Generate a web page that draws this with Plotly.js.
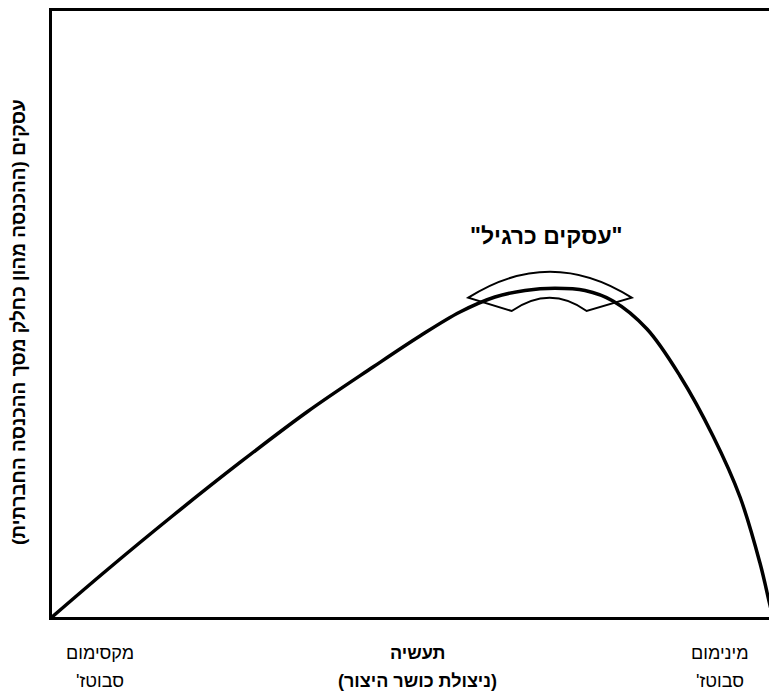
<!DOCTYPE html>
<html>
<head>
<meta charset="utf-8">
<script src="https://cdn.plot.ly/plotly-3.0.1.min.js"></script>
<style>html,body{margin:0;padding:0;background:#fff;}</style>
</head>
<body>
<div id="chart" style="width:769px;height:691px;"></div>
<script>
// Curve: economic activity vs. sabotage level (conceptual values, 0-100 scale)
var curveX = [0, 7.67, 16.88, 26.22, 35.56, 44.77, 51.32, 56.90, 61.78, 65.97, 70.15, 74.34, 78.24, 82.98, 87.59, 92.19, 95.96, 98.74, 100.0, 100.56];
var curveY = [0, 7.76, 16.75, 25.50, 33.83, 41.25, 46.37, 50.33, 52.81, 53.88, 54.24, 53.88, 52.15, 47.52, 39.77, 29.87, 19.80, 8.91, 2.64, -0.17];

// "Business as usual" banner (arc band around the peak)
var bannerOuterX = [58.06, 69.46, 80.85];
var bannerOuterY = [52.69, 61.27, 52.69];
var bannerInnerX = [74.57, 69.46, 64.11];
var bannerInnerY = [50.50, 54.88, 50.50];

// Texts (RLM keeps trailing punctuation in right-to-left order)
var RLM = '\u200F';
var bannerLabel = '"עסקים כרגיל"';
var yTitle = 'עסקים (ההכנסה מהון כחלק מסך ההכנסה החברתית)' + RLM;
var xTitleLines = ['תעשיה', '(ניצולת כושר היצור)'];
var leftLabelLines = ['מקסימום', "סבוטז'" + RLM];
var rightLabelLines = ['מינימום', "סבוטז'" + RLM];

var FONT = 'Liberation Sans, Arial, DejaVu Sans, sans-serif';

var bannerPath = 'M ' + bannerOuterX[0] + ',' + bannerOuterY[0] +
  ' Q ' + bannerOuterX[1] + ',' + bannerOuterY[1] + ' ' + bannerOuterX[2] + ',' + bannerOuterY[2] +
  ' L ' + bannerInnerX[0] + ',' + bannerInnerY[0] +
  ' Q ' + bannerInnerX[1] + ',' + bannerInnerY[1] + ' ' + bannerInnerX[2] + ',' + bannerInnerY[2] + ' Z';

var traces = [{
  x: curveX, y: curveY, type: 'scatter', mode: 'lines',
  line: {color: '#000', width: 3.5, shape: 'spline', smoothing: 1},
  hoverinfo: 'skip', showlegend: false
}];

function lineAnn(text, xPaper, yPaper, bold, size) {
  return {
    text: bold ? '<b>' + text + '</b>' : text,
    xref: 'paper', yref: 'paper', x: xPaper, y: yPaper,
    xanchor: 'center', yanchor: 'middle', showarrow: false,
    font: {family: FONT, size: size, color: '#000'}
  };
}

var annotations = [
  {
    text: '<b>' + bannerLabel + '</b>', xref: 'x', yref: 'y', x: 68.9, y: 62.8,
    xanchor: 'center', yanchor: 'middle', showarrow: false,
    font: {family: FONT, size: 23, color: '#000'}
  },
  {
    text: '<b>' + yTitle + '</b>', xref: 'paper', yref: 'paper', x: 0, y: 0.487,
    xanchor: 'center', yanchor: 'middle', xshift: -33, textangle: -90, showarrow: false,
    font: {family: FONT, size: 19, color: '#000'}
  },
  lineAnn(leftLabelLines[0], 0.067, -0.060, false, 18),
  lineAnn(leftLabelLines[1], 0.067, -0.1056, false, 18),
  lineAnn(xTitleLines[0], 0.510, -0.060, true, 18),
  lineAnn(xTitleLines[1], 0.510, -0.1056, true, 18),
  lineAnn(rightLabelLines[0], 0.932, -0.060, false, 18),
  lineAnn(rightLabelLines[1], 0.932, -0.1056, false, 18)
];

var layout = {
  width: 769, height: 691,
  margin: {l: 52, r: 0, t: 11, b: 74, pad: 0},
  paper_bgcolor: '#fff', plot_bgcolor: '#fff',
  showlegend: false,
  xaxis: {range: [0, 100], showline: true, mirror: true, linecolor: '#000', linewidth: 3,
          showgrid: false, zeroline: false, showticklabels: false, ticks: '', fixedrange: true},
  yaxis: {range: [0, 100], showline: true, mirror: false, linecolor: '#000', linewidth: 3,
          showgrid: false, zeroline: false, showticklabels: false, ticks: '', fixedrange: true},
  shapes: [{type: 'path', xref: 'x', yref: 'y', path: bannerPath,
            line: {color: '#000', width: 2}, fillcolor: 'rgba(0,0,0,0)'}],
  annotations: annotations
};

Plotly.newPlot('chart', traces, layout, {displayModeBar: false, staticPlot: true});
</script>
</body>
</html>
